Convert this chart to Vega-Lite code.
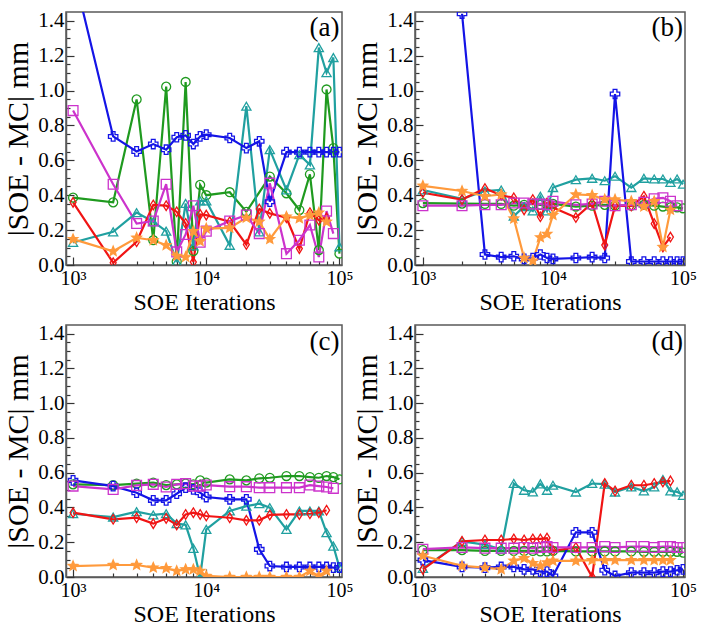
{
"$schema": "https://vega.github.io/schema/vega-lite/v6.json",
"padding": {"left": 3, "top": 8, "right": 4, "bottom": 2},
"config": {
 "view": {"stroke": "#5a5a5a", "strokeWidth": 1.5},
 "axis": {"labelFont": "Liberation Serif", "titleFont": "Liberation Serif", "labelFontSize": 21, "labelColor": "#000", "titleColor": "#000", "titleFontWeight": "normal", "domainColor": "#5a5a5a", "domainWidth": 1.5, "tickColor": "#333", "tickWidth": 1.2, "grid": false, "labelOverlap": false, "labelFlush": false, "labelBound": false},
 "axisX": {"titleFontSize": 24, "labelFontSize": 20},
 "axisY": {"titleFontSize": 30}
},
"data": {"values": [
 {"p":"a","s":"G","n":[1000,2000,3000,4000,5000,6000,7000,8000,9000,10000,15000,20000,30000,40000,50000,60000,70000,80000,90000,100000],"v":[0.386,0.359,0.949,0.142,1.022,0.02,1.049,0.08,0.459,0.40,0.417,0.305,0.507,0.411,0.315,0.52,0.085,1.006,0.67,0.065]},
 {"p":"a","s":"T","n":[1000,2000,3000,4000,5000,6000,7000,8000,9000,10000,15000,20000,25000,30000,40000,50000,60000,70000,80000,90000,100000],"v":[0.129,0.19,0.30,0.248,0.194,0.017,0.353,0.109,0.367,0.367,0.113,0.91,0.19,0.661,0.43,0.632,0.574,1.246,1.102,1.189,0.104]},
 {"p":"a","s":"B","n":[1000,2000,3000,4000,5000,6000,7000,8000,9000,10000,15000,20000,25000,30000,40000,50000,60000,70000,80000,90000,100000],"v":[1.69,0.737,0.651,0.693,0.661,0.732,0.743,0.693,0.737,0.747,0.728,0.67,0.709,0.363,0.647,0.647,0.647,0.647,0.647,0.647,0.647]},
 {"p":"a","s":"R","n":[1000,2000,3000,4000,5000,6000,7000,8000,9000,10000,15000,20000,25000,30000,40000,50000,60000,70000,80000],"v":[0.359,0.013,0.133,0.344,0.34,0.305,0.238,0.017,0.29,0.286,0.248,0.117,0.321,0.296,0.271,0.094,0.30,0.257,0.27]},
 {"p":"a","s":"M","n":[1000,2000,3000,4000,5000,6000,7000,8000,9000,10000,15000,20000,25000,30000,40000,50000,60000,70000,80000,90000],"v":[0.885,0.463,0.238,0.252,0.463,0.075,0.175,0.34,0.13,0.194,0.252,0.286,0.18,0.469,0.065,0.142,0.229,0.046,0.309,0.18]},
 {"p":"a","s":"O","n":[1000,2000,3000,4000,5000,6000,7000,8000,9000,10000,15000,20000,25000,30000,40000,50000,60000,70000,80000],"v":[0.148,0.079,0.156,0.142,0.113,0.052,0.046,0.194,0.136,0.209,0.213,0.271,0.248,0.148,0.277,0.267,0.286,0.30,0.248]},
 {"p":"b","s":"G","n":[1000,2000,3000,4000,5000,6000,7000,8000,9000,10000,15000,20000,25000,30000,40000,50000,60000,70000,80000,90000,100000],"v":[0.355,0.352,0.35,0.35,0.34,0.345,0.35,0.345,0.345,0.35,0.335,0.34,0.345,0.34,0.34,0.345,0.34,0.335,0.33,0.33,0.325]},
 {"p":"b","s":"T","n":[1000,2000,3000,4000,5000,6000,7000,8000,9000,10000,15000,20000,25000,30000,40000,50000,60000,70000,80000,90000,100000],"v":[0.43,0.379,0.424,0.43,0.28,0.335,0.31,0.394,0.31,0.444,0.489,0.497,0.483,0.509,0.444,0.497,0.493,0.493,0.473,0.493,0.463]},
 {"p":"b","s":"B","n":[2000,3000,4000,5000,6000,7000,8000,9000,10000,15000,20000,25000,30000,40000,50000,60000,70000,80000,90000,100000],"v":[1.44,0.06,0.045,0.05,0.035,0.04,0.06,0.04,0.035,0.04,0.045,0.04,0.98,0.02,0.02,0.02,0.02,0.02,0.02,0.02]},
 {"p":"b","s":"R","n":[1000,2000,3000,4000,5000,6000,7000,8000,9000,10000,15000,20000,25000,30000,40000,50000,60000,70000,80000],"v":[0.414,0.375,0.438,0.40,0.385,0.316,0.375,0.276,0.355,0.33,0.272,0.355,0.114,0.339,0.339,0.394,0.237,0.103,0.16]},
 {"p":"b","s":"M","n":[1000,2000,3000,4000,5000,6000,7000,8000,9000,10000,15000,20000,25000,30000,40000,50000,60000,70000,80000,90000],"v":[0.34,0.34,0.345,0.345,0.355,0.355,0.35,0.35,0.345,0.365,0.345,0.35,0.365,0.34,0.345,0.36,0.379,0.385,0.365,0.34]},
 {"p":"b","s":"O","n":[1000,2000,3000,4000,5000,6000,7000,8000,9000,10000,15000,20000,25000,30000,40000,50000,60000,70000,80000],"v":[0.454,0.424,0.394,0.404,0.266,0.04,0.024,0.158,0.178,0.286,0.404,0.40,0.375,0.375,0.365,0.335,0.365,0.103,0.316]},
 {"p":"c","s":"G","n":[1000,2000,3000,4000,5000,6000,7000,8000,9000,10000,15000,20000,25000,30000,40000,50000,60000,70000,80000,90000,100000],"v":[0.533,0.529,0.537,0.543,0.529,0.533,0.537,0.533,0.556,0.543,0.562,0.556,0.568,0.571,0.581,0.581,0.575,0.571,0.581,0.575,0.562]},
 {"p":"c","s":"T","n":[1000,2000,3000,4000,5000,6000,7000,8000,9000,10000,15000,20000,25000,30000,40000,50000,60000,70000,80000,90000,100000],"v":[0.364,0.345,0.376,0.357,0.364,0.307,0.30,0.165,0.0,0.274,0.38,0.408,0.422,0.399,0.274,0.38,0.38,0.38,0.255,0.178,0.054]},
 {"p":"c","s":"B","n":[1000,2000,3000,4000,5000,6000,7000,8000,9000,10000,15000,20000,25000,30000,40000,50000,60000,70000,80000,90000,100000],"v":[0.556,0.523,0.485,0.441,0.441,0.479,0.514,0.504,0.485,0.46,0.447,0.447,0.159,0.063,0.058,0.058,0.058,0.058,0.058,0.054,0.054]},
 {"p":"c","s":"R","n":[1000,2000,3000,4000,5000,6000,7000,8000,9000,10000,15000,20000,25000,30000,40000,50000,60000,70000,80000],"v":[0.37,0.332,0.341,0.307,0.337,0.30,0.36,0.37,0.36,0.351,0.341,0.326,0.326,0.357,0.36,0.36,0.364,0.37,0.384]},
 {"p":"c","s":"M","n":[1000,2000,3000,4000,5000,6000,7000,8000,9000,10000,15000,20000,25000,30000,40000,50000,60000,70000,80000,90000],"v":[0.523,0.504,0.527,0.533,0.518,0.533,0.537,0.523,0.523,0.529,0.52,0.52,0.514,0.514,0.514,0.514,0.529,0.523,0.518,0.51]},
 {"p":"c","s":"O","n":[1000,2000,3000,4000,5000,6000,7000,8000,9000,10000,15000,20000,25000,30000,40000,50000,60000,70000,80000],"v":[0.063,0.069,0.069,0.054,0.05,0.035,0.044,0.044,0.035,0.006,0.0,0.0,0.0,0.0,0.0,0.0,0.035,0.006,0.035]},
 {"p":"d","s":"G","n":[1000,2000,3000,4000,5000,6000,7000,8000,9000,10000,15000,20000,25000,30000,40000,50000,60000,70000,80000,90000,100000],"v":[0.155,0.155,0.15,0.15,0.15,0.15,0.15,0.147,0.147,0.15,0.147,0.147,0.147,0.147,0.147,0.145,0.145,0.145,0.145,0.145,0.14]},
 {"p":"d","s":"T","n":[1000,2000,3000,4000,5000,6000,7000,8000,9000,10000,15000,20000,25000,30000,40000,50000,60000,70000,80000,90000,100000],"v":[0.05,0.205,0.186,0.16,0.538,0.499,0.49,0.536,0.499,0.528,0.489,0.538,0.534,0.489,0.518,0.495,0.518,0.561,0.495,0.49,0.47]},
 {"p":"d","s":"B","n":[1000,2000,3000,4000,5000,6000,7000,8000,9000,10000,15000,20000,25000,30000,40000,50000,60000,70000,80000,90000,100000],"v":[0.097,0.058,0.054,0.058,0.058,0.044,0.044,0.031,0.031,0.006,0.257,0.257,0.039,0.006,0.025,0.025,0.025,0.031,0.031,0.039,0.044]},
 {"p":"d","s":"R","n":[1000,2000,3000,4000,5000,6000,7000,8000,9000,10000,15000,20000,25000,30000,40000,50000,60000,70000,80000],"v":[0.044,0.205,0.213,0.213,0.219,0.213,0.219,0.219,0.224,0.151,0.17,0.0,0.538,0.495,0.528,0.528,0.538,0.547,0.553]},
 {"p":"d","s":"M","n":[1000,2000,3000,4000,5000,6000,7000,8000,9000,10000,15000,20000,25000,30000,40000,50000,60000,70000,80000,90000,100000],"v":[0.16,0.17,0.166,0.166,0.166,0.17,0.166,0.17,0.175,0.17,0.17,0.17,0.175,0.17,0.175,0.175,0.17,0.175,0.175,0.17,0.17]},
 {"p":"d","s":"O","n":[1000,2000,3000,4000,5000,6000,7000,8000,9000,10000,15000,20000,25000,30000,40000,50000,60000,70000,80000],"v":[0.122,0.064,0.054,0.044,0.093,0.108,0.08,0.064,0.083,0.093,0.093,0.097,0.097,0.097,0.097,0.097,0.097,0.097,0.097]}
]},
"transform": [{"flatten": ["n", "v"]}],
"spacing": 6,
"vconcat": [
{"spacing": -2, "hconcat": [
{"width": 276, "height": 253, "transform": [{"filter": "datum.p == 'a'"}],
 "encoding": {
  "x": {"field": "n", "type": "quantitative", "scale": {"type": "log", "domain": [885, 104500], "nice": false}, "axis": {"title": "SOE Iterations", "values": [1000,2000,3000,4000,5000,6000,7000,8000,9000,10000,20000,30000,40000,50000,60000,70000,80000,90000,100000], "labelExpr": "datum.value == 1000 ? '10³' : datum.value == 10000 ? '10⁴' : datum.value == 100000 ? '10⁵' : ''", "tickSize": {"condition": {"test": "datum.value == 1000 || datum.value == 10000 || datum.value == 100000", "value": -8}, "value": -4}, "labelPadding": 11, "titlePadding": -2}},
  "y": {"field": "v", "type": "quantitative", "scale": {"domain": [0, 1.45], "nice": false}, "axis": {"title": "|SOE - MC| mm", "values": [0,0.05,0.1,0.15,0.2,0.25,0.3,0.35,0.4,0.45,0.5,0.55,0.6,0.65,0.7,0.75,0.8,0.85,0.9,0.95,1.0,1.05,1.1,1.15,1.2,1.25,1.3,1.35,1.4], "labelExpr": "abs(datum.value*5 - round(datum.value*5)) < 0.01 ? format(datum.value, '.1f') : ''", "tickSize": {"condition": {"test": "abs(datum.value*5 - round(datum.value*5)) < 0.01", "value": -8}, "value": -4}, "labelPadding": 10, "titlePadding": 4}}
 },
 "layer": [
  {"mark": {"type": "line", "strokeWidth": 2.2, "clip": true}, "encoding": {"stroke": {"field": "s", "type": "nominal", "scale": {"domain": ["G","T","B","R","M","O"], "range": ["#1f9a1f","#20a0a0","#1414e6","#f01414","#cc33cc","#ff9a3c"]}, "legend": null}}},
  {"mark": {"type": "point", "strokeWidth": 1.3, "clip": true, "opacity": 1}, "encoding": {"stroke": {"field": "s", "type": "nominal", "legend": null}, "fill": {"field": "s", "type": "nominal", "scale": {"domain": ["G","T","B","R","M","O"], "range": ["transparent","transparent","transparent","transparent","transparent","#ff9a3c"]}, "legend": null}, "shape": {"field": "s", "type": "nominal", "scale": {"domain": ["G","T","B","R","M","O"], "range": ["circle","triangle-up","cross","M0,-1L0.62,0L0,1L-0.62,0Z","square","M0,-1L0.264,-0.364L0.951,-0.309L0.428,0.139L0.588,0.809L0,0.45L-0.588,0.809L-0.428,0.139L-0.951,-0.309L-0.264,-0.364Z"]}, "legend": null}, "size": {"field": "s", "type": "ordinal", "scale": {"domain": ["G","T","B","R","M","O"], "range": [80,100,90,100,90,110]}, "legend": null}}},
  {"transform": [{"filter": "datum.s == 'G' && datum.n == 1000"}], "mark": {"type": "text", "align": "right", "baseline": "middle", "fontSize": 27, "font": "Liberation Serif", "color": "#000"}, "encoding": {"x": {"datum": 100000}, "y": {"datum": 1.36}, "text": {"value": "(a)"}}}
 ]},
{"width": 270, "height": 253, "transform": [{"filter": "datum.p == 'b'"}],
 "encoding": {
  "x": {"field": "n", "type": "quantitative", "scale": {"type": "log", "domain": [870, 103500], "nice": false}, "axis": {"title": "SOE Iterations", "values": [1000,2000,3000,4000,5000,6000,7000,8000,9000,10000,20000,30000,40000,50000,60000,70000,80000,90000,100000], "labelExpr": "datum.value == 1000 ? '10³' : datum.value == 10000 ? '10⁴' : datum.value == 100000 ? '10⁵' : ''", "tickSize": {"condition": {"test": "datum.value == 1000 || datum.value == 10000 || datum.value == 100000", "value": -8}, "value": -4}, "labelPadding": 11, "titlePadding": -2}},
  "y": {"field": "v", "type": "quantitative", "scale": {"domain": [0, 1.45], "nice": false}, "axis": {"title": "|SOE - MC| mm", "values": [0,0.05,0.1,0.15,0.2,0.25,0.3,0.35,0.4,0.45,0.5,0.55,0.6,0.65,0.7,0.75,0.8,0.85,0.9,0.95,1.0,1.05,1.1,1.15,1.2,1.25,1.3,1.35,1.4], "labelExpr": "abs(datum.value*5 - round(datum.value*5)) < 0.01 ? format(datum.value, '.1f') : ''", "tickSize": {"condition": {"test": "abs(datum.value*5 - round(datum.value*5)) < 0.01", "value": -8}, "value": -4}, "labelPadding": 10, "titlePadding": 4}}
 },
 "layer": [
  {"mark": {"type": "line", "strokeWidth": 2.2, "clip": true}, "encoding": {"stroke": {"field": "s", "type": "nominal", "scale": {"domain": ["G","T","B","R","M","O"], "range": ["#1f9a1f","#20a0a0","#1414e6","#f01414","#cc33cc","#ff9a3c"]}, "legend": null}}},
  {"mark": {"type": "point", "strokeWidth": 1.3, "clip": true, "opacity": 1}, "encoding": {"stroke": {"field": "s", "type": "nominal", "legend": null}, "fill": {"field": "s", "type": "nominal", "scale": {"domain": ["G","T","B","R","M","O"], "range": ["transparent","transparent","transparent","transparent","transparent","#ff9a3c"]}, "legend": null}, "shape": {"field": "s", "type": "nominal", "scale": {"domain": ["G","T","B","R","M","O"], "range": ["circle","triangle-up","cross","M0,-1L0.62,0L0,1L-0.62,0Z","square","M0,-1L0.264,-0.364L0.951,-0.309L0.428,0.139L0.588,0.809L0,0.45L-0.588,0.809L-0.428,0.139L-0.951,-0.309L-0.264,-0.364Z"]}, "legend": null}, "size": {"field": "s", "type": "ordinal", "scale": {"domain": ["G","T","B","R","M","O"], "range": [80,100,90,100,90,110]}, "legend": null}}},
  {"transform": [{"filter": "datum.s == 'G' && datum.n == 1000"}], "mark": {"type": "text", "align": "right", "baseline": "middle", "fontSize": 27, "font": "Liberation Serif", "color": "#000"}, "encoding": {"x": {"datum": 100000}, "y": {"datum": 1.36}, "text": {"value": "(b)"}}}
 ]}
]},
{"spacing": -2, "hconcat": [
{"width": 276, "height": 252, "transform": [{"filter": "datum.p == 'c'"}],
 "encoding": {
  "x": {"field": "n", "type": "quantitative", "scale": {"type": "log", "domain": [885, 104500], "nice": false}, "axis": {"title": "SOE Iterations", "values": [1000,2000,3000,4000,5000,6000,7000,8000,9000,10000,20000,30000,40000,50000,60000,70000,80000,90000,100000], "labelExpr": "datum.value == 1000 ? '10³' : datum.value == 10000 ? '10⁴' : datum.value == 100000 ? '10⁵' : ''", "tickSize": {"condition": {"test": "datum.value == 1000 || datum.value == 10000 || datum.value == 100000", "value": -8}, "value": -4}, "labelPadding": 11, "titlePadding": -2}},
  "y": {"field": "v", "type": "quantitative", "scale": {"domain": [0, 1.45], "nice": false}, "axis": {"title": "|SOE - MC| mm", "values": [0,0.05,0.1,0.15,0.2,0.25,0.3,0.35,0.4,0.45,0.5,0.55,0.6,0.65,0.7,0.75,0.8,0.85,0.9,0.95,1.0,1.05,1.1,1.15,1.2,1.25,1.3,1.35,1.4], "labelExpr": "abs(datum.value*5 - round(datum.value*5)) < 0.01 ? format(datum.value, '.1f') : ''", "tickSize": {"condition": {"test": "abs(datum.value*5 - round(datum.value*5)) < 0.01", "value": -8}, "value": -4}, "labelPadding": 10, "titlePadding": 4}}
 },
 "layer": [
  {"mark": {"type": "line", "strokeWidth": 2.2, "clip": true}, "encoding": {"stroke": {"field": "s", "type": "nominal", "scale": {"domain": ["G","T","B","R","M","O"], "range": ["#1f9a1f","#20a0a0","#1414e6","#f01414","#cc33cc","#ff9a3c"]}, "legend": null}}},
  {"mark": {"type": "point", "strokeWidth": 1.3, "clip": true, "opacity": 1}, "encoding": {"stroke": {"field": "s", "type": "nominal", "legend": null}, "fill": {"field": "s", "type": "nominal", "scale": {"domain": ["G","T","B","R","M","O"], "range": ["transparent","transparent","transparent","transparent","transparent","#ff9a3c"]}, "legend": null}, "shape": {"field": "s", "type": "nominal", "scale": {"domain": ["G","T","B","R","M","O"], "range": ["circle","triangle-up","cross","M0,-1L0.62,0L0,1L-0.62,0Z","square","M0,-1L0.264,-0.364L0.951,-0.309L0.428,0.139L0.588,0.809L0,0.45L-0.588,0.809L-0.428,0.139L-0.951,-0.309L-0.264,-0.364Z"]}, "legend": null}, "size": {"field": "s", "type": "ordinal", "scale": {"domain": ["G","T","B","R","M","O"], "range": [80,100,90,100,90,110]}, "legend": null}}},
  {"transform": [{"filter": "datum.s == 'G' && datum.n == 1000"}], "mark": {"type": "text", "align": "right", "baseline": "middle", "fontSize": 27, "font": "Liberation Serif", "color": "#000"}, "encoding": {"x": {"datum": 100000}, "y": {"datum": 1.35}, "text": {"value": "(c)"}}}
 ]},
{"width": 270, "height": 252, "transform": [{"filter": "datum.p == 'd'"}],
 "encoding": {
  "x": {"field": "n", "type": "quantitative", "scale": {"type": "log", "domain": [870, 103500], "nice": false}, "axis": {"title": "SOE Iterations", "values": [1000,2000,3000,4000,5000,6000,7000,8000,9000,10000,20000,30000,40000,50000,60000,70000,80000,90000,100000], "labelExpr": "datum.value == 1000 ? '10³' : datum.value == 10000 ? '10⁴' : datum.value == 100000 ? '10⁵' : ''", "tickSize": {"condition": {"test": "datum.value == 1000 || datum.value == 10000 || datum.value == 100000", "value": -8}, "value": -4}, "labelPadding": 11, "titlePadding": -2}},
  "y": {"field": "v", "type": "quantitative", "scale": {"domain": [0, 1.45], "nice": false}, "axis": {"title": "|SOE - MC| mm", "values": [0,0.05,0.1,0.15,0.2,0.25,0.3,0.35,0.4,0.45,0.5,0.55,0.6,0.65,0.7,0.75,0.8,0.85,0.9,0.95,1.0,1.05,1.1,1.15,1.2,1.25,1.3,1.35,1.4], "labelExpr": "abs(datum.value*5 - round(datum.value*5)) < 0.01 ? format(datum.value, '.1f') : ''", "tickSize": {"condition": {"test": "abs(datum.value*5 - round(datum.value*5)) < 0.01", "value": -8}, "value": -4}, "labelPadding": 10, "titlePadding": 4}}
 },
 "layer": [
  {"mark": {"type": "line", "strokeWidth": 2.2, "clip": true}, "encoding": {"stroke": {"field": "s", "type": "nominal", "scale": {"domain": ["G","T","B","R","M","O"], "range": ["#1f9a1f","#20a0a0","#1414e6","#f01414","#cc33cc","#ff9a3c"]}, "legend": null}}},
  {"mark": {"type": "point", "strokeWidth": 1.3, "clip": true, "opacity": 1}, "encoding": {"stroke": {"field": "s", "type": "nominal", "legend": null}, "fill": {"field": "s", "type": "nominal", "scale": {"domain": ["G","T","B","R","M","O"], "range": ["transparent","transparent","transparent","transparent","transparent","#ff9a3c"]}, "legend": null}, "shape": {"field": "s", "type": "nominal", "scale": {"domain": ["G","T","B","R","M","O"], "range": ["circle","triangle-up","cross","M0,-1L0.62,0L0,1L-0.62,0Z","square","M0,-1L0.264,-0.364L0.951,-0.309L0.428,0.139L0.588,0.809L0,0.45L-0.588,0.809L-0.428,0.139L-0.951,-0.309L-0.264,-0.364Z"]}, "legend": null}, "size": {"field": "s", "type": "ordinal", "scale": {"domain": ["G","T","B","R","M","O"], "range": [80,100,90,100,90,110]}, "legend": null}}},
  {"transform": [{"filter": "datum.s == 'G' && datum.n == 1000"}], "mark": {"type": "text", "align": "right", "baseline": "middle", "fontSize": 27, "font": "Liberation Serif", "color": "#000"}, "encoding": {"x": {"datum": 100000}, "y": {"datum": 1.35}, "text": {"value": "(d)"}}}
 ]}
]}
]
}
